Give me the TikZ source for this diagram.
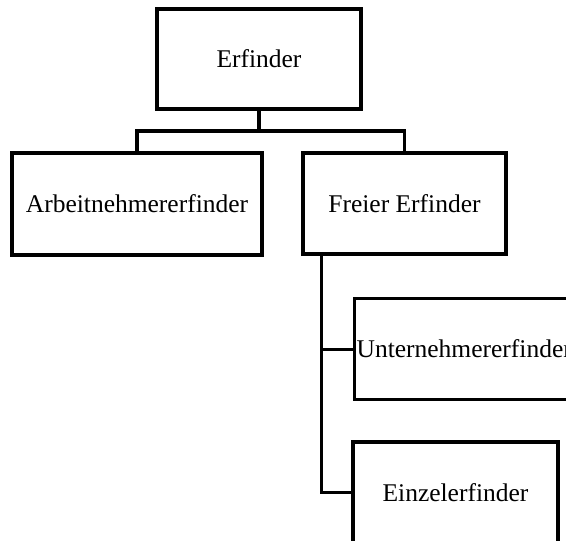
\documentclass[tikz,border=0pt]{standalone}
\usepackage{fontspec}
\setmainfont{Liberation Serif}
\usetikzlibrary{calc}
\begin{document}
\begin{tikzpicture}[x=1pt,y=-1pt,
  box/.style={draw=black, line width=3.2pt, fill=white, rectangle, inner sep=0pt,
    font=\fontsize{25.5}{30}\selectfont},
  conn/.style={draw=black, line width=3.2pt}]
\useasboundingbox (0,0) rectangle (566,541);
\clip (0,0) rectangle (566,541);
\node[box, minimum width=204, minimum height=100] (e) at (259,59) {Erfinder};
\node[box, minimum width=250, minimum height=102] (a) at (137,204) {Arbeitnehmererfinder};
\node[box, minimum width=203, minimum height=101] (f) at (404.5,203.5) {Freier Erfinder};
\node[box, anchor=north west, minimum height=101, text width=218, inner xsep=2pt, align=left] (u) at (353,297) {Unternehmererfinder};
\node[box, minimum width=205, minimum height=101] (z) at (455.5,492.5) {Einzelerfinder};
\coordinate (j) at (259,131);
\coordinate (fs) at ($(f.south west)+(20,0)$);
\draw[conn] (e.south) -- (j);
\draw[conn] (a.north) |- (j) -| (f.north);
\draw[conn] (fs) |- (u.west);
\draw[conn] (fs) |- (z.west);
\end{tikzpicture}
\end{document}
